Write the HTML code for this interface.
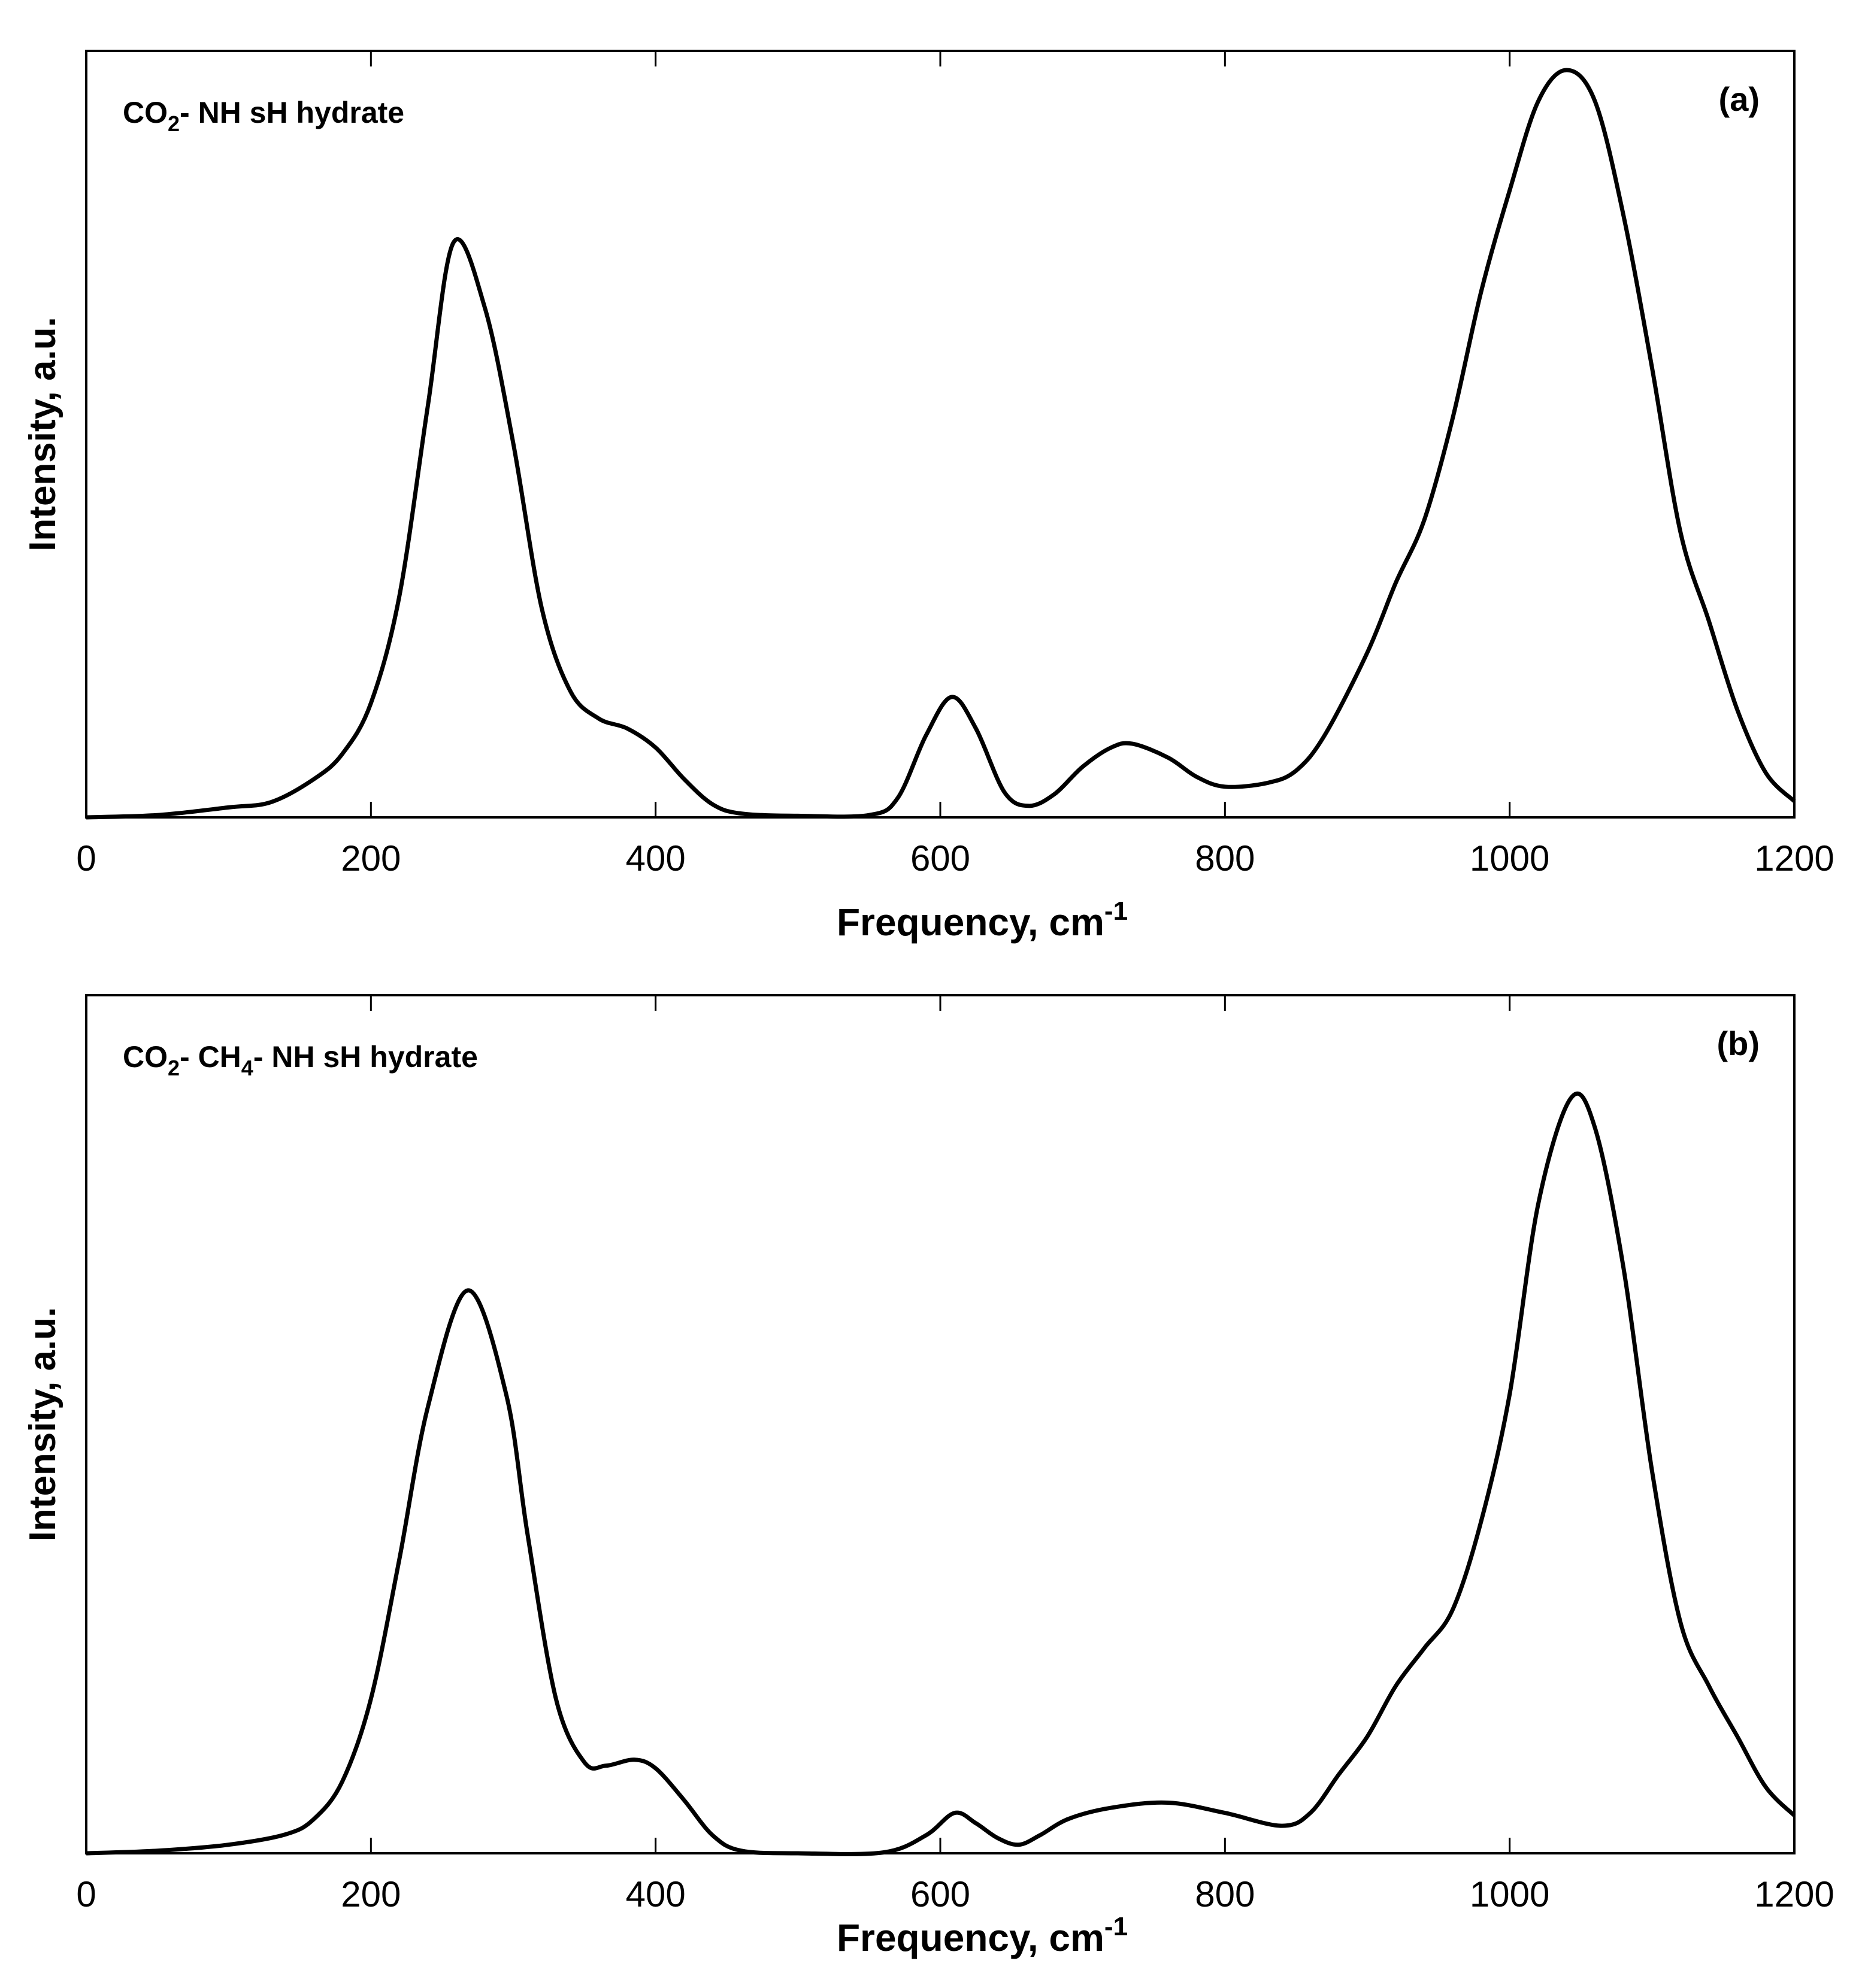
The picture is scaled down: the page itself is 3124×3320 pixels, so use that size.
<!DOCTYPE html>
<html><head><meta charset="utf-8"><style>
html,body{margin:0;padding:0;background:#fff;}
svg{display:block;font-family:"Liberation Sans",Arial,sans-serif;}
</style></head><body>
<svg id="chart" width="3124" height="3320" viewBox="0 0 3124 3320" xmlns="http://www.w3.org/2000/svg"></svg>
<script>
const freqA = [0,50,100,130,160,180,200,220,240,258,280,300,320,340,360,380,400,420,440,460,500,550,570,590,608,625,645,662,680,700,720,735,760,780,800,830,850,870,900,920,940,960,980,1000,1020,1040,1060,1080,1100,1120,1140,1160,1180,1200];
const intensityA = [0,0.3,1.3,2.0,5.0,8.3,14.9,28.9,53.7,75.0,66.5,48.8,27.3,16.5,12.9,11.6,9.1,5.0,1.7,0.5,0.2,0.3,2.5,10.7,15.7,11.6,3.3,1.5,3.0,6.6,9.1,9.6,7.8,5.3,4.0,4.5,6.1,10.7,21.5,30.6,38.8,52.1,68.6,81.8,93.4,97.5,93.4,78.5,58.7,37.2,25.6,14.0,5.8,2.1];
const freqB = [0,50,100,140,160,180,200,220,240,268,295,310,330,350,365,385,400,420,440,460,500,560,590,610,625,640,655,670,690,720,760,800,840,860,880,900,920,940,960,980,1000,1020,1043,1060,1080,1100,1120,1140,1160,1180,1200];
const intensityB = [0,0.3,1.0,2.2,4.0,8.4,18.0,34.3,52.0,65.6,53.5,37.2,18.0,10.6,10.2,10.9,9.9,6.2,2.1,0.3,0,0.1,2.1,4.7,3.5,1.8,1.0,2.1,4.0,5.3,5.9,4.7,3.2,4.7,9.2,13.6,19.5,23.9,28.4,38.7,53.5,75.6,88.0,84.5,68.2,44.6,26.9,19.5,13.6,7.7,4.4];
const xTicks = [0,200,400,600,800,1000,1200];
const xTickLabels = ["0","200","400","600","800","1000","1200"];

const NS = "http://www.w3.org/2000/svg";
const svg = document.getElementById('chart');
function mk(tag, attrs, parent){const e=document.createElementNS(NS,tag);for(const k in attrs)e.setAttribute(k,attrs[k]);(parent||svg).appendChild(e);return e;}

function smoothPath(pts){
  let d = "M"+pts[0][0].toFixed(1)+","+pts[0][1].toFixed(1);
  for(let i=0;i<pts.length-1;i++){
    const p0=pts[Math.max(0,i-1)],p1=pts[i],p2=pts[i+1],p3=pts[Math.min(pts.length-1,i+2)];
    const c1x=p1[0]+(p2[0]-p0[0])/6,c1y=p1[1]+(p2[1]-p0[1])/6;
    const c2x=p2[0]-(p3[0]-p1[0])/6,c2y=p2[1]-(p3[1]-p1[1])/6;
    d+=" C"+c1x.toFixed(1)+","+c1y.toFixed(1)+" "+c2x.toFixed(1)+","+c2y.toFixed(1)+" "+p2[0].toFixed(1)+","+p2[1].toFixed(1);
  }
  return d;
}

function panel(id, top, bottom, freqs, vals, label, tag, xlOff){
  const L=144,R=2996;
  const xs=f=>L+(f-0)/(1200-0)*(R-L);
  const ys=v=>bottom-(v/100)*(bottom-top);
  const g=mk('g',{});
  
  
  const frame=mk('rect',{x:L,y:top,width:R-L,height:bottom-top,fill:'none',stroke:'#000','stroke-width':4},g);
  
  
  xTicks.forEach((t,i)=>{
    const x=xs(t);
    if(i>0&&i<xTicks.length-1){
      const tb=mk('line',{x1:x,x2:x,y1:bottom,y2:bottom-26,stroke:'#000','stroke-width':3},g);
      
      
      const tt=mk('line',{x1:x,x2:x,y1:top,y2:top+26,stroke:'#000','stroke-width':3},g);
      
      
    }
    const tl=mk('text',{x:x,y:bottom+89,'font-size':60,'text-anchor':'middle'},g);
    tl.textContent=xTickLabels[i];
    
    
  });
  const pts=freqs.map((f,i)=>[xs(f),ys(vals[i])]);
  const line=mk('path',{d:smoothPath(pts),fill:'none',stroke:'#000','stroke-width':7,'stroke-linejoin':'round'},g);
  
  
  const xl=mk('text',{x:1640,y:bottom+xlOff,'font-size':64,'font-weight':'bold','text-anchor':'middle'},g);
  xl.innerHTML='Frequency, cm<tspan font-size="44" dy="-26">-1</tspan>';
  
  
  const cy=(top+bottom)/2;
  const yl=mk('text',{x:0,y:0,'font-size':62,'font-weight':'bold','text-anchor':'middle',transform:'translate(92,'+cy+') rotate(-90)'},g);
  yl.textContent='Intensity, a.u.';
  
  
  const an=mk('text',{x:205,y:top+120,'font-size':50,'font-weight':'bold'},g);
  an.innerHTML=label;
  
  
  const pl=mk('text',{x:2938,y:top+100,'font-size':56,'font-weight':'bold','text-anchor':'end'},g);
  pl.textContent=tag;
  
  
}
panel('a',85,1365,freqA,intensityA,'CO<tspan font-size="36" dy="14">2</tspan><tspan dy="-14">- NH sH hydrate</tspan>','(a)',197);
panel('b',1662,3095,freqB,intensityB,'CO<tspan font-size="36" dy="14">2</tspan><tspan dy="-14">- CH</tspan><tspan font-size="36" dy="14">4</tspan><tspan dy="-14">- NH sH hydrate</tspan>','(b)',163);
</script>
</body></html>
